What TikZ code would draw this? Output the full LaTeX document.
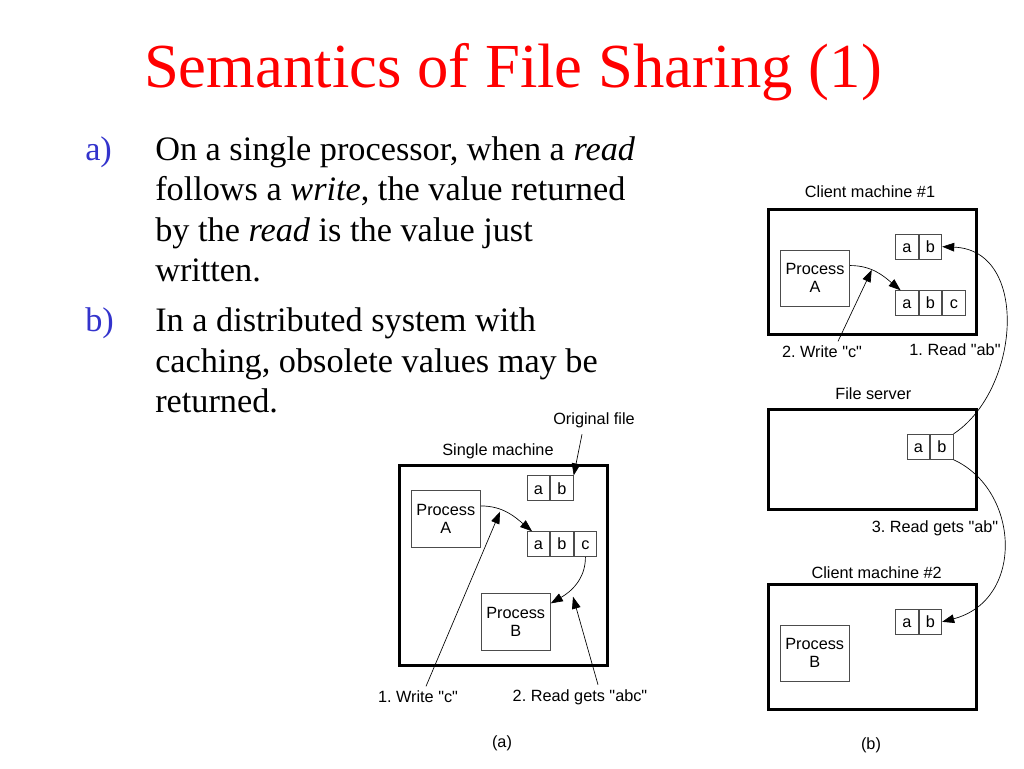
\documentclass[tikz,border=0pt]{standalone}
\usepackage{fontspec}
\setmainfont{Liberation Serif}
\setsansfont{Liberation Sans}[Ligatures=TeXOff]
\usetikzlibrary{positioning, arrows.meta}
\definecolor{itemblue}{RGB}{51,51,204}
\definecolor{titlered}{RGB}{255,0,0}
\frenchspacing

\begin{document}
\begin{tikzpicture}[
    % GLOBAL CFG
    x=0.75pt, y=-0.75pt,
    >={Triangle[length=9pt, width=6.5pt]},
    % Styles
    machine/.style={
        rectangle,
        draw,
        line width=2.2pt,
        inner sep=0pt,
    },
    proc/.style={
        rectangle,
        draw=black!70,
        line width=0.6pt,
        minimum width=52pt,
        minimum height=42.5pt,
        inner sep=0pt,
        align=center,
        font=\sffamily\fontsize{12.2}{13.5}\selectfont,
    },
    cell/.style={
        rectangle,
        draw=black!70,
        line width=0.6pt,
        minimum width=17pt,
        minimum height=18.75pt,
        inner sep=0pt,
        text height=8.6pt,
        text depth=0pt,
        font=\sffamily\fontsize{12.2}{13.5}\selectfont,
    },
    mylabel/.style={
        font=\sffamily\fontsize{12.2}{13.5}\selectfont
    },
    bodytext/.style={
        anchor=base west,
        inner sep=0pt,
        font=\fontsize{25.7}{30}\selectfont
    },
    ArrowC1/.style={
        ->,
        line width=0.5pt,
    },
]
\useasboundingbox (0,0) rectangle (1024,768);

% Title and text
    \node [anchor=base, text=titlered, inner sep=0pt, font=\fontsize{47}{54}\selectfont] (title) at (513,87) {Semantics of File Sharing (1)};

    \node [bodytext, text=itemblue] (itema) at (85,160) {a)};
    \node [bodytext] (la1) at (155,160) {On a single processor, when a \textit{read}};
    \node [bodytext] (la2) at (155,200.5) {follows a \textit{write}, the value returned};
    \node [bodytext] (la3) at (155,241) {by the \textit{read} is the value just};
    \node [bodytext] (la4) at (155,281.5) {written.};
    \node [bodytext, text=itemblue] (itemb) at (85,331.5) {b)};
    \node [bodytext] (lb1) at (155,331.5) {In a distributed system with};
    \node [bodytext] (lb2) at (155,372) {caching, obsolete values may be};
    \node [bodytext] (lb3) at (155,412.5) {returned.};

% (a) Single machine
    \node [machine, minimum width=156pt, minimum height=150pt] (single) at (503.5,565.7) {};
    \node [mylabel] (singlelbl) at (498,451) {Single machine};
    \node [mylabel] (origlbl) at (594,420) {Original file};

    \node [proc] (pA) at (445.8,518.7) {Process\\A};
    \node [proc] (pB) at (515.7,622) {Process\\B};

    % Cells named a#, b#, c#
    \node [cell] (a1) at (538.5,488.3) {a};
    \node [cell, anchor=west] (b1) at (a1.east) {b};
    \node [cell] (a2) at (538.5,544.2) {a};
    \node [cell, anchor=west] (b2) at (a2.east) {b};
    \node [cell, anchor=west] (c2) at (b2.east) {c};

    \node [mylabel] (wlbl) at (418,697) {1. Write "c"};
    \node [mylabel] (rlbl) at (580,697) {2. Read gets "abc"};
    \node [mylabel] (capa) at (502,743) {(a)};

    \coordinate (wtip) at (500,511.7);
    \coordinate (rtip) at (573,596.7);

    % Arrows
    \draw [ArrowC1] (origlbl.south) ++(-12,2) -- (b1.north east);
    \draw [ArrowC1] (pA.20) to[out=0, in=140] ([xshift=4pt]a2.north west);
    \draw [ArrowC1] ([xshift=6pt]wlbl.north) -- (wtip);
    \draw [ArrowC1] (c2.south) to[out=-90, in=30] (pB.28);
    \draw [ArrowC1] ([xshift=13.5pt]rlbl.north) -- (rtip);

% (b) Client machines and file server
    \node [mylabel] (c1lbl) at (870,191.7) {Client machine \#1};
    \node [machine, minimum width=155.8pt, minimum height=93.5pt] (client1) at (872.2,271.7) {};
    \node [proc] (pA1) at (815,278.3) {Process\\A};
    \node [cell] (ca1) at (907,246.7) {a};
    \node [cell, anchor=west] (cb1) at (ca1.east) {b};
    \node [cell] (ca2) at (907,303.2) {a};
    \node [cell, anchor=west] (cb2) at (ca2.east) {b};
    \node [cell, anchor=west] (cc2) at (cb2.east) {c};

    \node [mylabel] (w2lbl) at (822,352) {2. Write "c"};
    \node [mylabel] (r1lbl) at (955,350) {1. Read "ab"};
    \coordinate (w2tip) at (871.7,270);

    \node [mylabel] (fslbl) at (873.3,394) {File server};
    \node [machine, minimum width=155.8pt, minimum height=75pt] (server) at (872.2,459.3) {};
    \node [cell] (sa) at (918.3,446.8) {a};
    \node [cell, anchor=west] (sb) at (sa.east) {b};

    \node [mylabel] (r3lbl) at (935,528.3) {3. Read gets "ab"};

    \node [mylabel] (c2lbl) at (876.7,572.7) {Client machine \#2};
    \node [machine, minimum width=155.8pt, minimum height=93.8pt] (client2) at (872.2,646.8) {};
    \node [proc] (pB2) at (814.7,653.3) {Process\\B};
    \node [cell] (da1) at (907,621.8) {a};
    \node [cell, anchor=west] (db1) at (da1.east) {b};

    \node [mylabel] (capb) at (871,745) {(b)};

    % Arrows
    \draw [ArrowC1] (pA1.20) to[out=0, in=140] ([xshift=4pt]ca2.north west);
    \draw [ArrowC1] ([xshift=12pt]w2lbl.north) -- (w2tip);
    \draw [ArrowC1] (sb.north east) .. controls (1020,390) and (1030,250) .. (cb1.east);
    \draw [ArrowC1] (sb.south east) .. controls (1020,490) and (1025,600) .. (db1.east);

\end{tikzpicture}
\end{document}
